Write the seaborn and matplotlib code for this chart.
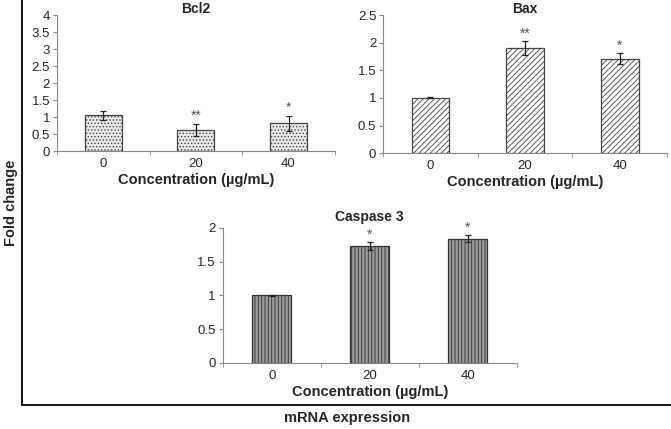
import matplotlib
matplotlib.use("Agg")
import matplotlib.pyplot as plt
import seaborn as sns
import pandas as pd

# values
conc = ["0", "20", "40"]
bcl2 = [1.05, 0.62, 0.82]
bcl2_err = [0.13, 0.18, 0.22]
bcl2_sig = ["", "**", "*"]
bax = [1.0, 1.9, 1.71]
bax_err = [0.01, 0.13, 0.10]
bax_sig = ["", "**", "*"]
casp3 = [1.0, 1.73, 1.84]
casp3_err = [0.01, 0.06, 0.05]
casp3_sig = ["", "*", "*"]

sns.set_style("white")
plt.rcParams['font.family'] = ['Liberation Sans', 'DejaVu Sans']
plt.rcParams['hatch.linewidth'] = 0.6

fig = plt.figure(figsize=(6.71, 4.29), dpi=100)

# outer frame with overall labels
big = fig.add_axes([0.033, 0.056, 0.967, 0.944])
big.set_xticks([])
big.set_yticks([])
for s in ['top', 'right']:
    big.spines[s].set_visible(False)
for s in ['left', 'bottom']:
    big.spines[s].set_color('black')
    big.spines[s].set_linewidth(1.3)
big.patch.set_alpha(0)
big.set_ylabel("Fold change", fontsize=10.5, fontweight='bold', labelpad=3)
big.set_xlabel("mRNA expression", fontsize=10.5, fontweight='bold', labelpad=4)


def panel(rect, title, title_y, vals, errs, sig, ymax, ystep, face, hatch, edge):
    ax = fig.add_axes(rect)
    df = pd.DataFrame({"conc": conc, "val": vals})
    sns.barplot(data=df, x="conc", y="val", ax=ax, width=0.4, color=face,
                edgecolor=edge, linewidth=0.9, errorbar=None, saturation=1)
    for p in ax.patches:
        p.set_hatch(hatch)
        p.set_edgecolor(edge)
    ax.errorbar(range(len(vals)), vals, yerr=errs, fmt='none', ecolor='#222222',
                elinewidth=0.9, capsize=2, capthick=0.9)
    for i, (v, e, s) in enumerate(zip(vals, errs, sig)):
        if s:
            ax.text(i, v + e + ymax * 0.005, s, ha='center', va='bottom',
                    fontsize=10, color='#555555')
    ax.set_ylim(0, ymax)
    ax.set_xlim(-0.5, 2.5)
    ticks = [round(ystep * k, 2) for k in range(int(round(ymax / ystep)) + 1)]
    ax.set_yticks(ticks)
    ax.set_yticklabels([("%g" % t) for t in ticks])
    ax.set_xticks([-0.5, 0.5, 1.5, 2.5], minor=True)
    ax.tick_params(axis='x', which='major', length=0, pad=5, labelsize=9.5)
    ax.tick_params(axis='x', which='minor', length=3, color='#888888', direction='out', bottom=True)
    ax.tick_params(axis='y', length=3, color='#888888', direction='out', left=True, labelsize=9.5, pad=2)
    for s in ['top', 'right']:
        ax.spines[s].set_visible(False)
    for s in ['left', 'bottom']:
        ax.spines[s].set_color('#888888')
        ax.spines[s].set_linewidth(0.8)
    ax.patch.set_alpha(0)
    ax.text(0.5, title_y, title, transform=ax.transAxes, ha='center', va='baseline',
            fontsize=10, fontweight='bold')
    ax.set_ylabel("")
    ax.set_xlabel("Concentration (µg/mL)", fontsize=10.5, fontweight='bold', labelpad=2)
    return ax


panel([0.085, 0.648, 0.414, 0.317], "Bcl2", 1.015, bcl2, bcl2_err, bcl2_sig, 4, 0.5,
      '#e8e8e8', '.....', '#444444')
panel([0.571, 0.643, 0.423, 0.322], "Bax", 1.015, bax, bax_err, bax_sig, 2.5, 0.5,
      'white', '//////', '#444444')
panel([0.332, 0.154, 0.438, 0.315], "Caspase 3", 1.05, casp3, casp3_err, casp3_sig, 2, 0.5,
      '#9a9a9a', '|||||', '#333333')

fig.savefig("out.png", dpi=100)
